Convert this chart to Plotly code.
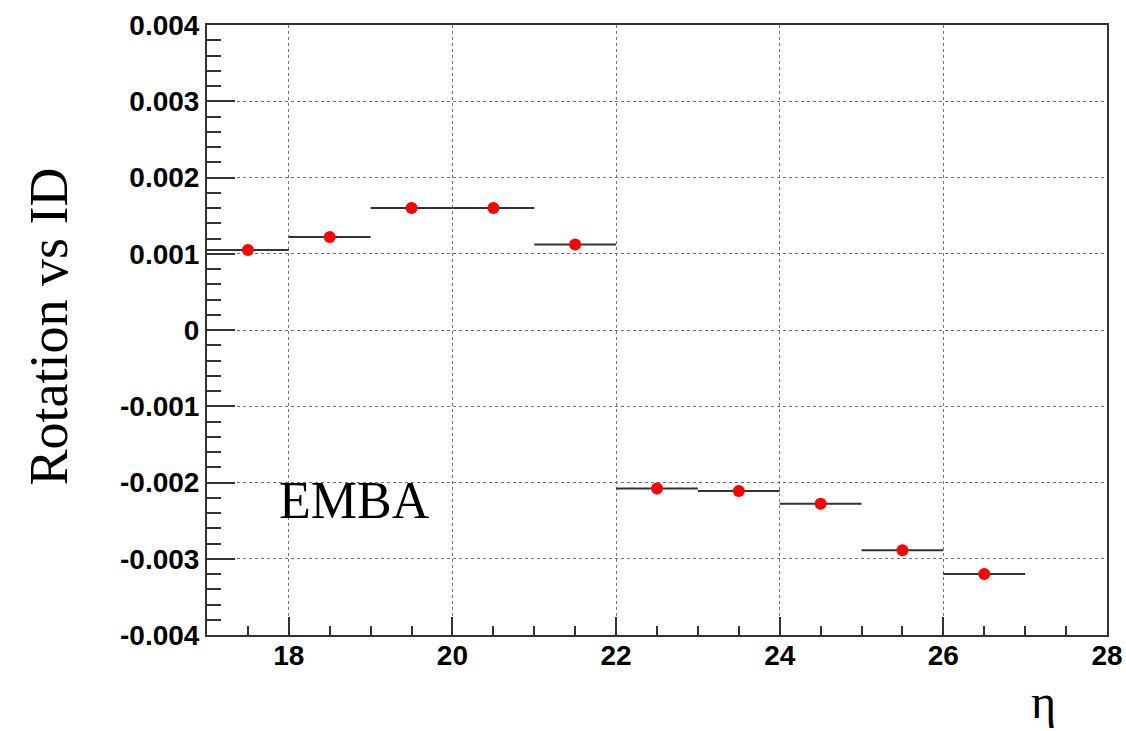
import plotly.graph_objects as go

eta_bins = [17.5, 18.5, 19.5, 20.5, 21.5, 22.5, 23.5, 24.5, 25.5, 26.5]
rotation = [0.00105, 0.00122, 0.00160, 0.00160, 0.00112,
            -0.00208, -0.00211, -0.00228, -0.00289, -0.00320]
half_width = [0.5] * len(eta_bins)

x_ticks = [18, 20, 22, 24, 26, 28]
y_ticks = [-0.004, -0.003, -0.002, -0.001, 0, 0.001, 0.002, 0.003, 0.004]
y_ticklabels = ["-0.004", "-0.003", "-0.002", "-0.001", "0", "0.001", "0.002", "0.003", "0.004"]

fig = go.Figure()
fig.add_trace(go.Scatter(
    x=eta_bins, y=rotation, mode="markers",
    marker=dict(color="#ff0000", size=12),
    error_x=dict(type="data", array=half_width, symmetric=True,
                 color="#333333", thickness=2, width=0),
    showlegend=False,
))

tickfont = dict(family="Liberation Sans, Arial", size=28, color="black", weight="bold")

fig.update_layout(
    width=1126, height=731,
    margin=dict(l=207, r=19, t=25, b=96, autoexpand=False),
    paper_bgcolor="white", plot_bgcolor="white",
    xaxis=dict(
        range=[17, 28], tickvals=x_ticks, ticktext=[str(v) for v in x_ticks],
        automargin=False, ticklabelstandoff=-6,
        ticks="inside", ticklen=18, tickwidth=2, tickcolor="#333",
        showline=True, linecolor="#333", linewidth=2, mirror=True,
        showgrid=True, gridcolor="#777", griddash="dot", gridwidth=1.2,
        zeroline=False, tickfont=tickfont,
        minor=dict(dtick=0.5, tick0=17, ticks="inside", ticklen=9, tickwidth=2,
                   tickcolor="#333", showgrid=False),
    ),
    yaxis=dict(
        range=[-0.004, 0.004], tickvals=y_ticks, ticktext=y_ticklabels,
        automargin=False,
        ticks="inside", ticklen=28, tickwidth=2, tickcolor="#333",
        showline=True, linecolor="#333", linewidth=2, mirror=True,
        showgrid=True, gridcolor="#777", griddash="dot", gridwidth=1.2,
        zeroline=False, tickfont=tickfont,
        minor=dict(dtick=0.0002, tick0=-0.004, ticks="inside", ticklen=14, tickwidth=2,
                   tickcolor="#333", showgrid=False),
    ),
    annotations=[
        dict(text="Rotation vs ID", xref="paper", yref="paper", x=-0.176, y=0.505,
             textangle=-90, showarrow=False, xanchor="center", yanchor="middle",
             font=dict(family="Liberation Serif, Times New Roman", size=54, color="black")),
        dict(text="EMBA", xref="paper", yref="paper", x=0.164, y=0.221,
             showarrow=False, xanchor="center", yanchor="middle",
             font=dict(family="Liberation Serif, Times New Roman", size=52, color="black")),
        dict(text="η", xref="paper", yref="paper", x=0.929, y=-0.155,
             showarrow=False, xanchor="center", yanchor="bottom",
             font=dict(family="Liberation Serif, Times New Roman", size=48, color="black")),
    ],
)

fig.write_html("out.html")
